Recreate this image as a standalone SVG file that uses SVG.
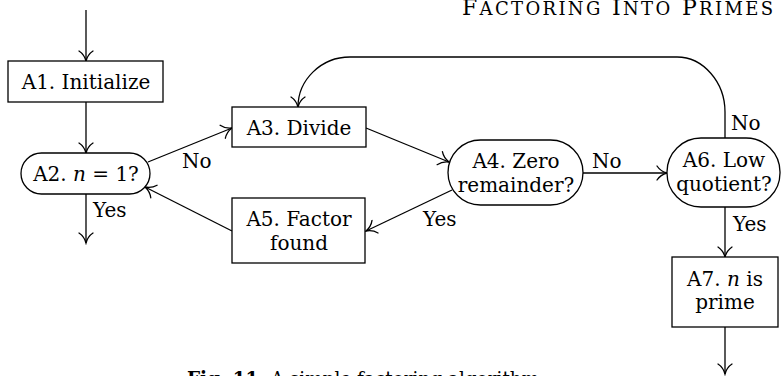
<svg xmlns="http://www.w3.org/2000/svg" width="781" height="376" viewBox="0 0 781 376">
<defs>
<style>
text{font-family:"DejaVu Serif","Liberation Serif",serif;font-size:20px;fill:#000}
.c{text-anchor:middle}
.it{font-style:italic}
.box{fill:#fff;stroke:#000;stroke-width:1.3}
.ln{fill:none;stroke:#000;stroke-width:1.3;marker-end:url(#arr)}
</style>
<marker id="arr" viewBox="-12 -8 14 16" refX="0" refY="0" markerWidth="14" markerHeight="16" markerUnits="userSpaceOnUse" orient="auto">
<path d="M-10,-7 C-7,-2.5 -3,-0.8 0,0 C-3,0.8 -7,2.5 -10,7" fill="none" stroke="#000" stroke-width="1.3" stroke-linecap="round"/>
</marker>
</defs>
<rect width="781" height="376" fill="#fff"/>

<text x="773" y="15" text-anchor="end" textLength="311" lengthAdjust="spacing" style="font-size:22px">F<tspan style="font-size:18px">ACTORING</tspan> I<tspan style="font-size:18px">NTO</tspan> P<tspan style="font-size:18px">RIMES</tspan></text>

<g id="connectors">
<path class="ln" d="M86,10 L86,61"/>
<path class="ln" d="M86,102 L86,153"/>
<path class="ln" d="M86,194 L86,243"/>
<path class="ln" d="M148,162 L232,128"/>
<path class="ln" d="M366,128 L449,162"/>
<path class="ln" d="M452,190 L366,231"/>
<path class="ln" d="M232,231 L145,187"/>
<path class="ln" d="M583,173 L667,173"/>
<path class="ln" d="M725,207 L725,257"/>
<path class="ln" d="M725,327 L725,374"/>
<path class="ln" d="M725,138 L725,112 C725,82 703,57 677,57 L350,57 C321,57 298,80 298,107"/>
<text x="182" y="168">No</text>
<text x="93" y="217">Yes</text>
<text x="423" y="226">Yes</text>
<text x="592" y="168">No</text>
<text x="731" y="130">No</text>
<text x="733" y="231">Yes</text>
</g>

<g id="A1">
<rect class="box" x="8" y="61" width="155" height="41"/>
<text class="c" x="86" y="89">A1. Initialize</text>
</g>
<g id="A2">
<rect class="box" x="21" y="153" width="129" height="41" rx="20.5"/>
<text class="c" x="86" y="181">A2. <tspan class="it">n</tspan> = 1?</text>
</g>
<g id="A3">
<rect class="box" x="232" y="107" width="134" height="40"/>
<text class="c" x="299" y="135">A3. Divide</text>
</g>
<g id="A4">
<rect class="box" x="448" y="140" width="135" height="65" rx="32.5"/>
<text class="c" x="516" y="168">A4. Zero</text>
<text class="c" x="516" y="192">remainder?</text>
</g>
<g id="A5">
<rect class="box" x="232" y="198" width="133" height="65"/>
<text class="c" x="299" y="226">A5. Factor</text>
<text class="c" x="299" y="250">found</text>
</g>
<g id="A6">
<rect class="box" x="667" y="138" width="113" height="69" rx="34"/>
<text class="c" x="724" y="167">A6. Low</text>
<text class="c" x="724" y="191">quotient?</text>
</g>
<g id="A7">
<rect class="box" x="672" y="257" width="106" height="70"/>
<text class="c" x="725" y="286">A7. <tspan class="it">n</tspan> is</text>
<text class="c" x="725" y="309">prime</text>
</g>

<text x="187" y="386" textLength="358" lengthAdjust="spacingAndGlyphs"><tspan style="font-weight:bold">Fig. 11.</tspan> A simple factoring algorithm.</text>
</svg>
